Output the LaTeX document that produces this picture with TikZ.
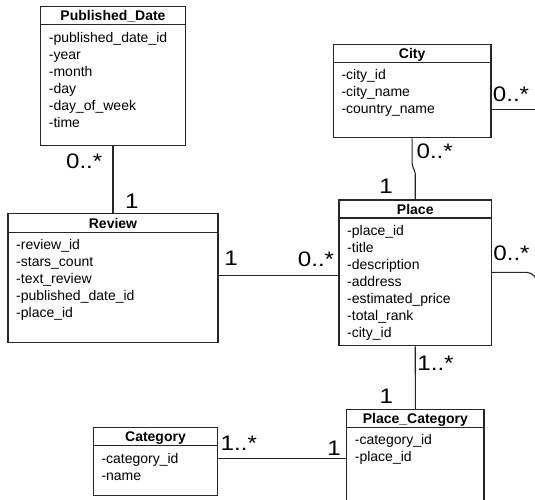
\documentclass[tikz,border=0pt]{standalone}
\usepackage{fontspec}
\setmainfont{Liberation Sans}
\usetikzlibrary{fit}
\tikzset{
  cls/.style={draw=black!85, line width=1.1pt, inner sep=0pt},
  clsline/.style={draw=black!85, line width=1.1pt},
  ctitle/.style={font=\bfseries\fontsize{14}{17}\selectfont, inner sep=0pt},
  attr/.style={font=\fontsize{14}{17}\selectfont, inner sep=0pt},
  conn/.style={draw=black!85, line width=1.1pt},
  mult/.style={font=\fontsize{21}{25}\selectfont, inner sep=0pt, anchor=base},
}
\newcommand\umlclass[8]{%
  \node[cls, fit={(#2,#3) (#4,#5)}] (#1) {};
  \draw[clsline] (#2,#6) -- (#4,#6);
  \node[ctitle, anchor=base] (#1-title) at ({(#2+#4)/2},{(#3+#6)/2+5}) {#7};
  \foreach \a [count=\i] in {#8} {
    \node[attr, anchor=base west] (#1-a\i) at ({#2+8},{#6+17.5+17*(\i-1)}) {\a};
  }%
}
\newcommand\mlabel[1]{\scalebox{1.15}[1]{#1}}
\begin{document}
\begin{tikzpicture}[x=1pt,y=-1pt]
\useasboundingbox (0,0) rectangle (535,499);
\clip (0,0) rectangle (535,499);
\fill[white] (0,0) rectangle (535,499);

\umlclass{pd}{40.7}{6.7}{185.3}{145.7}{24.7}{Published\_Date}{-published\_date\_id,-year,-month,-day,-day\_of\_week,-time}
\umlclass{city}{333.3}{44.3}{491}{137.7}{62.3}{City}{-city\_id,-city\_name,-country\_name}
\umlclass{rev}{8}{213.7}{218}{342.3}{232.3}{Review}{-review\_id,-stars\_count,-text\_review,-published\_date\_id,-place\_id}
\umlclass{place}{339}{200}{491.5}{345.7}{218}{Place}{-place\_id,-title,-description,-address,-estimated\_price,-total\_rank,-city\_id}
\umlclass{pc}{346.7}{409.3}{484}{515}{427.3}{Place\_Category}{-category\_id,-place\_id}
\umlclass{cat}{93.3}{427.3}{217.7}{495.3}{445.7}{Category}{-category\_id,-name}

% connectors
\draw[conn] (pd.south) -- (rev.north);
\coordinate (rpy) at (0,275.3);
\draw[conn] (rev.east |- rpy) -- (place.west |- rpy);
\coordinate (cj1) at (0,165.7);
\coordinate (cj2) at (0,172);
\draw[conn, rounded corners=2pt] (city.south) -- (city.south |- cj1) -- (place.north |- cj2) -- (place.north);
\draw[conn] (place.south) -- (pc.north);
\coordinate (cpy) at (0,458.3);
\draw[conn] (cat.east |- cpy) -- (pc.west |- cpy);
\coordinate (cityout) at (545,109.3);
\draw[conn] (city.east |- cityout) -- (cityout);
\coordinate (placeout) at (537,340);
\coordinate (pry) at (0,272.3);
\draw[conn, rounded corners=11pt] (place.east |- pry) -- (placeout |- pry) -- (placeout);

% multiplicities
\node[mult] (m1) at (84.2,168.3) {\mlabel{0..*}};
\node[mult] (m2) at (131.8,208.3) {\mlabel{1}};
\node[mult] (m3) at (231,265.7) {\mlabel{1}};
\node[mult] (m4) at (316,266.7) {\mlabel{0..*}};
\node[mult] (m5) at (511,101) {\mlabel{0..*}};
\node[mult] (m6) at (434.7,158.3) {\mlabel{0..*}};
\node[mult] (m7) at (386,193.3) {\mlabel{1}};
\node[mult] (m8) at (511.5,260) {\mlabel{0..*}};
\node[mult] (m9) at (435.5,370) {\mlabel{1..*}};
\node[mult] (m10) at (386.3,403.3) {\mlabel{1}};
\node[mult] (m11) at (238.8,450) {\mlabel{1..*}};
\node[mult] (m12) at (334,455) {\mlabel{1}};
\end{tikzpicture}
\end{document}
